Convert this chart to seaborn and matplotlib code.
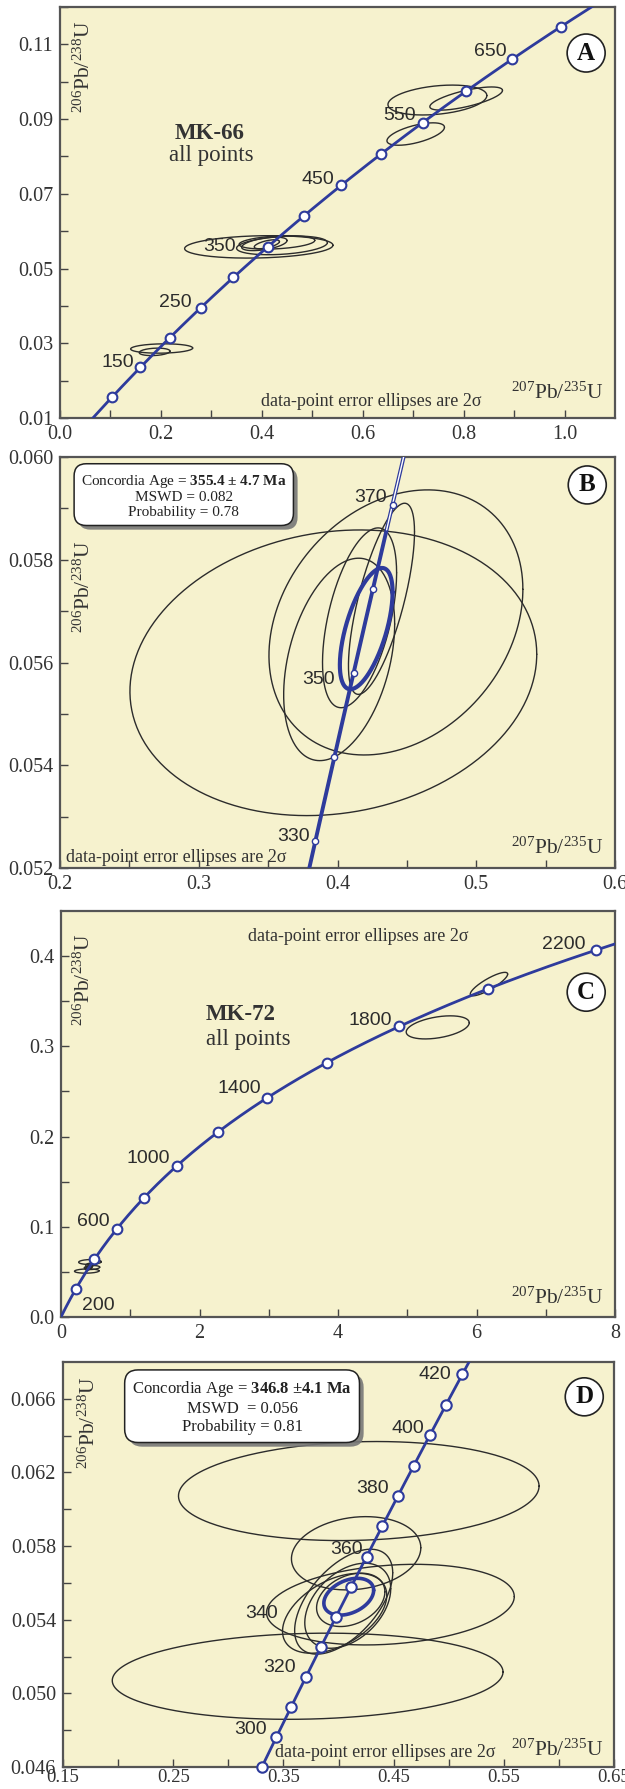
import numpy as np
import pandas as pd
import seaborn as sns
import matplotlib.pyplot as plt
import matplotlib.patheffects as pe

# U decay constants (1/yr)
LAMBDA_238 = 1.55125e-10
LAMBDA_235 = 9.8485e-10

# ---------------- panel A : MK-66, all points ----------------
a_marker_ages = [100, 150, 200, 250, 300, 350, 400, 450, 500, 550, 600, 650, 700]
a_label_ages = [150, 250, 350, 450, 550, 650]
a_ell_x = [0.394, 0.440, 0.430, 0.405, 0.410, 0.748, 0.805, 0.705, 0.2015, 0.1875]
a_ell_y = [0.0558, 0.0562, 0.0570, 0.0566, 0.0565, 0.0951, 0.0955, 0.0860, 0.0286, 0.0277]
a_ell_sx = [0.147, 0.090, 0.075, 0.045, 0.025, 0.098, 0.072, 0.057, 0.0615, 0.0305]
a_ell_sy = [0.0030, 0.0025, 0.0018, 0.0018, 0.0012, 0.0040, 0.0031, 0.0030, 0.00125, 0.0010]
a_ell_rho = [0.15, 0.30, 0.30, 0.50, 0.60, 0.30, 0.70, 0.60, 0.10, 0.20]
a_xticks = [0.0, 0.2, 0.4, 0.6, 0.8, 1.0]
a_xticklabels = ['0.0', '0.2', '0.4', '0.6', '0.8', '1.0']
a_yticks = [0.01, 0.03, 0.05, 0.07, 0.09, 0.11]
a_yticklabels = ['0.01', '0.03', '0.05', '0.07', '0.09', '0.11']

# ---------------- panel B : MK-66 concordia age ----------------
b_marker_ages = [330, 340, 350, 360, 370]
b_label_ages = [330, 350, 370]
b_ell_x = [0.397, 0.4421, 0.4012, 0.4159, 0.4317]
b_ell_y = [0.0558, 0.05678, 0.05606, 0.05687, 0.05724]
b_ell_sx = [0.1466, 0.0915, 0.0400, 0.0267, 0.0238]
b_ell_sy = [0.00278, 0.00258, 0.00197, 0.00175, 0.00186]
b_ell_rho = [0.13, 0.25, 0.35, 0.50, 0.70]
b_conc = dict(x=0.4207, y=0.05666, sx=0.0190, sy=0.00118, rho=0.60)
b_box_lines = ['Concordia Age = $\\mathbf{355.4\\ ±\\ 4.7\\ Ma}$', 'MSWD = 0.082', 'Probability = 0.78']
b_xticks = [0.2, 0.3, 0.4, 0.5, 0.6]
b_xticklabels = ['0.2', '0.3', '0.4', '0.5', '0.6']
b_yticks = [0.052, 0.054, 0.056, 0.058, 0.060]
b_yticklabels = ['0.052', '0.054', '0.056', '0.058', '0.060']

# ---------------- panel D : MK-72 young population ----------------
d_marker_ages = [290, 300, 310, 320, 330, 340, 350, 360, 370, 380, 390, 400, 410, 420]
d_label_ages = [300, 320, 340, 360, 380, 400, 420]
d_ell_x = [0.4184, 0.372, 0.4471, 0.416, 0.4047, 0.3965, 0.4084, 0.4111]
d_ell_y = [0.06099, 0.05093, 0.05482, 0.05761, 0.05498, 0.05435, 0.05476, 0.05508]
d_ell_sx = [0.1636, 0.1773, 0.1124, 0.0587, 0.0445, 0.0473, 0.0390, 0.0310]
d_ell_sy = [0.00269, 0.00234, 0.00219, 0.00199, 0.00285, 0.00217, 0.00231, 0.00145]
d_ell_rho = [0.10, 0.10, 0.20, 0.15, 0.55, 0.45, 0.40, 0.30]
d_conc = dict(x=0.4093, y=0.05525, sx=0.0226, sy=0.0010, rho=0.35)
d_box_lines = ['Concordia Age = $\\mathbf{346.8\\ ±4.1\\ Ma}$', 'MSWD  = 0.056', 'Probability = 0.81']
d_xticks = [0.15, 0.25, 0.35, 0.45, 0.55, 0.65]
d_xticklabels = ['0.15', '0.25', '0.35', '0.45', '0.55', '0.65']
d_yticks = [0.046, 0.050, 0.054, 0.058, 0.062, 0.066]
d_yticklabels = ['0.046', '0.050', '0.054', '0.058', '0.062', '0.066']

# ---------------- panel C : MK-72, all points ----------------
c_marker_ages = [200, 400, 600, 800, 1000, 1200, 1400, 1600, 1800, 2000, 2200]
c_label_ages = [200, 600, 1000, 1400, 1800, 2200]
# two old grains + the young population of panel D
c_ell_x = [6.18, 5.44] + d_ell_x
c_ell_y = [0.369, 0.321] + d_ell_y
c_ell_sx = [0.27, 0.455] + d_ell_sx
c_ell_sy = [0.013, 0.0128] + d_ell_sy
c_ell_rho = [0.85, 0.40] + d_ell_rho
c_xticks = [0, 2, 4, 6, 8]
c_xticklabels = ['0', '2', '4', '6', '8']
c_yticks = [0.0, 0.1, 0.2, 0.3, 0.4]
c_yticklabels = ['0.0', '0.1', '0.2', '0.3', '0.4']

# ---------------- style ----------------
BG = '#F6F2CE'
BLUE = '#2E3B9C'
INK = '#2c2c2c'
SERIF = ['Liberation Serif', 'DejaVu Serif']
SANS = ['Liberation Sans', 'DejaVu Sans']

sns.set_theme(style='ticks')
plt.rcParams['font.family'] = SERIF
plt.rcParams['mathtext.fontset'] = 'custom'
plt.rcParams['mathtext.rm'] = 'Liberation Serif'
plt.rcParams['mathtext.it'] = 'Liberation Serif:italic'
plt.rcParams['mathtext.bf'] = 'Liberation Serif:bold'

YLAB = r'$^{206}$Pb/$^{238}$U'
XLAB = r'$^{207}$Pb/$^{235}$U'
NOTE = 'data-point error ellipses are 2σ'


def concordia(ages):
    t = np.asarray(ages, dtype=float) * 1e6
    return np.exp(LAMBDA_235 * t) - 1, np.exp(LAMBDA_238 * t) - 1


def ellipse_xy(cx, cy, sx, sy, rho, n=300):
    t = np.linspace(0, 2 * np.pi, n)
    return cx + sx * np.cos(t), cy + sy * (rho * np.cos(t) + np.sqrt(1 - rho ** 2) * np.sin(t))


def setup(ax, xlim, ylim, xt, xtl, yt, ytl):
    ax.set_facecolor(BG)
    ax.set_xlim(*xlim)
    ax.set_ylim(*ylim)
    ax.set_xticks(xt)
    ax.set_xticklabels(xtl)
    ax.set_yticks(yt)
    ax.set_yticklabels(ytl)
    dx = xt[1] - xt[0]
    dy = yt[1] - yt[0]
    ax.set_xticks(np.arange(xt[0] + dx / 2, xlim[1], dx), minor=True)
    ax.set_yticks(np.arange(yt[0] + dy / 2, ylim[1], dy), minor=True)
    ax.tick_params(which='both', direction='in', color='#444444', width=1, length=6,
                   labelsize=14.5, labelcolor='#333333', pad=5)
    for s in ax.spines.values():
        s.set_color('#555555')
        s.set_linewidth(1.6)


def draw_ellipses(ax, xs, ys, sxs, sys_, rhos, color=INK, lw=1.0):
    for cx, cy, sx, sy, r in zip(xs, ys, sxs, sys_, rhos):
        ex, ey = ellipse_xy(cx, cy, sx, sy, r)
        ax.plot(ex, ey, color=color, lw=lw, zorder=2)


def draw_concordia(ax, age_lo, age_hi, marker_ages, lw, ms, mew, clip=True):
    cx, cy = concordia(np.linspace(age_lo, age_hi, 600))
    df = pd.DataFrame({'x': cx, 'y': cy})
    sns.lineplot(data=df, x='x', y='y', sort=False, color=BLUE, lw=lw, ax=ax, zorder=3)
    mx, my = concordia(marker_ages)
    sns.scatterplot(x=mx, y=my, s=ms ** 2, color='white', edgecolor=BLUE,
                    linewidth=mew, ax=ax, zorder=5, clip_on=clip)
    ax.set_xlabel('')
    ax.set_ylabel('')


def label_ages(ax, ages, offsets):
    mx, my = concordia(ages)
    for a, x, y, off in zip(ages, mx, my, offsets):
        h = 'right' if off[0] < 0 else 'left'
        ax.annotate(str(a), (x, y), xytext=off, textcoords='offset pixels',
                    ha=h, va='center', fontsize=14, family=SANS, color=INK, zorder=6)


def letter(ax, s, x, y):
    ax.text(x, y, s, transform=ax.transAxes, ha='center', va='center', fontsize=18,
            fontweight='bold', color='#111111', zorder=8,
            bbox=dict(boxstyle='circle,pad=0.3', fc='white', ec='#222222', lw=1.2))


def axis_titles(ax, ylab_xy, xlab_xy):
    ax.text(*ylab_xy, YLAB, transform=ax.transAxes, rotation=90, ha='center', va='center',
            fontsize=15.5, color='#333333')
    ax.text(*xlab_xy, XLAB, transform=ax.transAxes, ha='right', va='center',
            fontsize=15.5, color='#333333')


def note(ax, x, y, ha='center'):
    ax.text(x, y, NOTE, transform=ax.transAxes, ha=ha, va='center', fontsize=13, color='#333333')


def result_box(ax, lines, x, y, fs):
    t = ax.text(x, y, '\n'.join(lines), transform=ax.transAxes, ha='center', va='top',
                multialignment='center', fontsize=fs, color='#222222', linespacing=1.15, zorder=8,
                bbox=dict(boxstyle='round,pad=0.45,rounding_size=0.8', fc='white', ec='#222222', lw=1.1))
    t.get_bbox_patch().set_path_effects([pe.withSimplePatchShadow(offset=(3, -3),
                                                                  shadow_rgbFace='#777777', alpha=0.9)])


W, H = 625, 1789
fig = plt.figure(figsize=(W / 100, H / 100), dpi=100)
fig.patch.set_facecolor('white')

axA = fig.add_axes([60 / W, 1 - 418 / H, 555 / W, 411 / H])
axB = fig.add_axes([60 / W, 1 - 868 / H, 555 / W, 411 / H])
axC = fig.add_axes([61 / W, 1 - 1317 / H, 554 / W, 406 / H])
axD = fig.add_axes([63 / W, 1 - 1767 / H, 551 / W, 405 / H])

# ---- A ----
setup(axA, (0, 1.1), (0.01, 0.12), a_xticks, a_xticklabels, a_yticks, a_yticklabels)
draw_ellipses(axA, a_ell_x, a_ell_y, a_ell_sx, a_ell_sy, a_ell_rho)
draw_concordia(axA, 40, 800, a_marker_ages, lw=2.0, ms=7, mew=1.5)
label_ages(axA, a_label_ages, [(-6, 5), (-9, 5), (-32, 0), (-7, 6), (-7, 7), (-6, 7)])
axis_titles(axA, (0.043, 0.854), (0.978, 0.061))
note(axA, 0.56, 0.039)
axA.text(0.27, 0.693, 'MK-66', transform=axA.transAxes, ha='center', va='center', fontsize=16.5,
         fontweight='bold', color='#333333')
axA.text(0.272, 0.638, 'all points', transform=axA.transAxes, ha='center', va='center', fontsize=16.5,
         color='#333333')
letter(axA, 'A', 0.948, 0.888)

# ---- B ----
setup(axB, (0.2, 0.6), (0.052, 0.060), b_xticks, b_xticklabels, b_yticks, b_yticklabels)
draw_ellipses(axB, b_ell_x, b_ell_y, b_ell_sx, b_ell_sy, b_ell_rho)
draw_ellipses(axB, [b_conc['x']], [b_conc['y']], [b_conc['sx']], [b_conc['sy']], [b_conc['rho']],
              color=BLUE, lw=3.0)
draw_concordia(axB, 320, 380, b_marker_ages, lw=2.8, ms=4.5, mew=1.0)
tx, ty = concordia(np.linspace(367, 380, 100))
axB.plot(tx, ty, color='white', lw=1.0, zorder=4)
label_ages(axB, b_label_ages, [(-5, 5), (-19, -6), (-6, 7)])
axis_titles(axB, (0.043, 0.684), (0.978, 0.049))
note(axB, 0.011, 0.026, ha='left')
result_box(axB, b_box_lines, 0.223, 0.962, 11)
letter(axB, 'B', 0.950, 0.932)

# ---- C ----
setup(axC, (0, 8), (0, 0.45), c_xticks, c_xticklabels, c_yticks, c_yticklabels)
draw_ellipses(axC, c_ell_x, c_ell_y, c_ell_sx, c_ell_sy, c_ell_rho, lw=1.0)
draw_concordia(axC, 0, 2400, c_marker_ages, lw=2.0, ms=7, mew=1.5)
label_ages(axC, c_label_ages, [(6, -17), (-7, 7), (-7, 7), (-6, 10), (-7, 6), (-11, 6)])
axis_titles(axC, (0.0415, 0.830), (0.978, 0.047))
note(axC, 0.536, 0.936)
axC.text(0.262, 0.746, 'MK-72', transform=axC.transAxes, ha='left', va='center', fontsize=16.5,
         fontweight='bold', color='#333333')
axC.text(0.262, 0.683, 'all points', transform=axC.transAxes, ha='left', va='center', fontsize=16.5,
         color='#333333')
letter(axC, 'C', 0.948, 0.800)

# ---- D ----
setup(axD, (0.15, 0.65), (0.046, 0.068), d_xticks, d_xticklabels, d_yticks, d_yticklabels)
axD.tick_params(axis='x', which='major', pad=1.5, labelsize=13.5)
draw_ellipses(axD, d_ell_x, d_ell_y, d_ell_sx, d_ell_sy, d_ell_rho)
draw_ellipses(axD, [d_conc['x']], [d_conc['y']], [d_conc['sx']], [d_conc['sy']], [d_conc['rho']],
              color=BLUE, lw=2.6)
draw_concordia(axD, 286, 440, d_marker_ages, lw=2.0, ms=7.5, mew=1.5, clip=False)
for ln in axD.lines:
    ln.set_clip_on(True)
label_ages(axD, d_label_ages, [(-10, 7), (-10, 9), (-58, 3), (-4, 7), (-9, 8), (-6, 7), (-11, 0)])
axis_titles(axD, (0.047, 0.849), (0.98, 0.042))
note(axD, 0.585, 0.037)
result_box(axD, d_box_lines, 0.325, 0.957, 12)
letter(axD, 'D', 0.946, 0.914)

fig.savefig('out.png', dpi=100, facecolor='white')
